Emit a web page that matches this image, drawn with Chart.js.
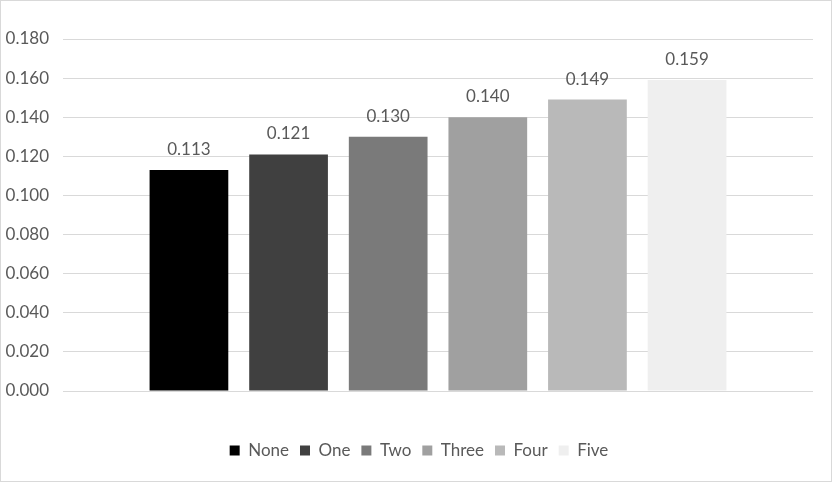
<!DOCTYPE html>
<html>
<head>
<meta charset="utf-8">
<script src="https://cdn.jsdelivr.net/npm/chart.js@4.4.0/dist/chart.umd.min.js"></script>
<style>
  html, body { margin: 0; padding: 0; background: #fff; }
  .frame { width: 832px; height: 482px; box-sizing: border-box; border: 1px solid #d9d9d9; }
  canvas { display: block; }
</style>
</head>
<body>
<div class="frame"><canvas id="c" width="830" height="480"></canvas></div>
<script>
// one category, each level is its own series
const levels = ['None', 'One', 'Two', 'Three', 'Four', 'Five'];
const values = [0.113, 0.121, 0.130, 0.140, 0.149, 0.159];
const shades = ['#000000', '#404040', '#7a7a7a', '#a0a0a0', '#b9b9b9', '#efefef'];
const yTicks = [0, 0.02, 0.04, 0.06, 0.08, 0.10, 0.12, 0.14, 0.16, 0.18];

const textColor = '#595959';
const font = 'Lato';

// draws the value above every bar
const valueLabels = {
    id: 'valueLabels',
    afterDatasetsDraw(chart) {
        const ctx = chart.ctx;
        ctx.save();
        ctx.font = '17px ' + font;
        ctx.fillStyle = textColor;
        ctx.textAlign = 'center';
        ctx.textBaseline = 'alphabetic';
        chart.data.datasets.forEach((ds, i) => {
            const bar = chart.getDatasetMeta(i).data[0];
            ctx.fillText(ds.data[0].toFixed(3), bar.x, bar.y - 15);
        });
        ctx.restore();
    }
};

// legend in the reference sits a bit right of centre
const legendShift = {
    id: 'legendShift',
    afterLayout(chart) {
        chart.legend.left += 11;
        chart.legend.right += 11;
    }
};

new Chart(document.getElementById('c'), {
    type: 'bar',
    data: {
        labels: [''],
        datasets: levels.map((name, i) => ({
            label: name,
            data: [values[i]],
            backgroundColor: shades[i],
            borderWidth: 0
        }))
    },
    options: {
        responsive: false,
        animation: false,
        categoryPercentage: 0.797,
        barPercentage: 0.79,
        layout: { padding: { top: 38, right: 18, left: 2, bottom: 12 } },
        plugins: {
            tooltip: { enabled: false },
            legend: {
                position: 'bottom',
                labels: {
                    boxWidth: 10,
                    boxHeight: 10,
                    padding: 11,
                    color: textColor,
                    font: { family: font, size: 17 }
                }
            }
        },
        scales: {
            x: {
                grid: { display: false },
                border: { display: false },
                ticks: { display: false },
                afterFit: (axis) => { axis.height = 40; }
            },
            y: {
                min: 0,
                max: 0.18,
                afterBuildTicks: (axis) => { axis.ticks = yTicks.map(v => ({ value: v })); },
                afterFit: (axis) => { axis.width = 60; },
                grid: { color: '#d9d9d9', lineWidth: 1, drawTicks: false },
                border: { display: false },
                ticks: {
                    padding: 14,
                    color: textColor,
                    font: { family: font, size: 17 },
                    callback: (v) => Number(v).toFixed(3)
                }
            }
        }
    },
    plugins: [valueLabels, legendShift]
});
</script>
</body>
</html>
